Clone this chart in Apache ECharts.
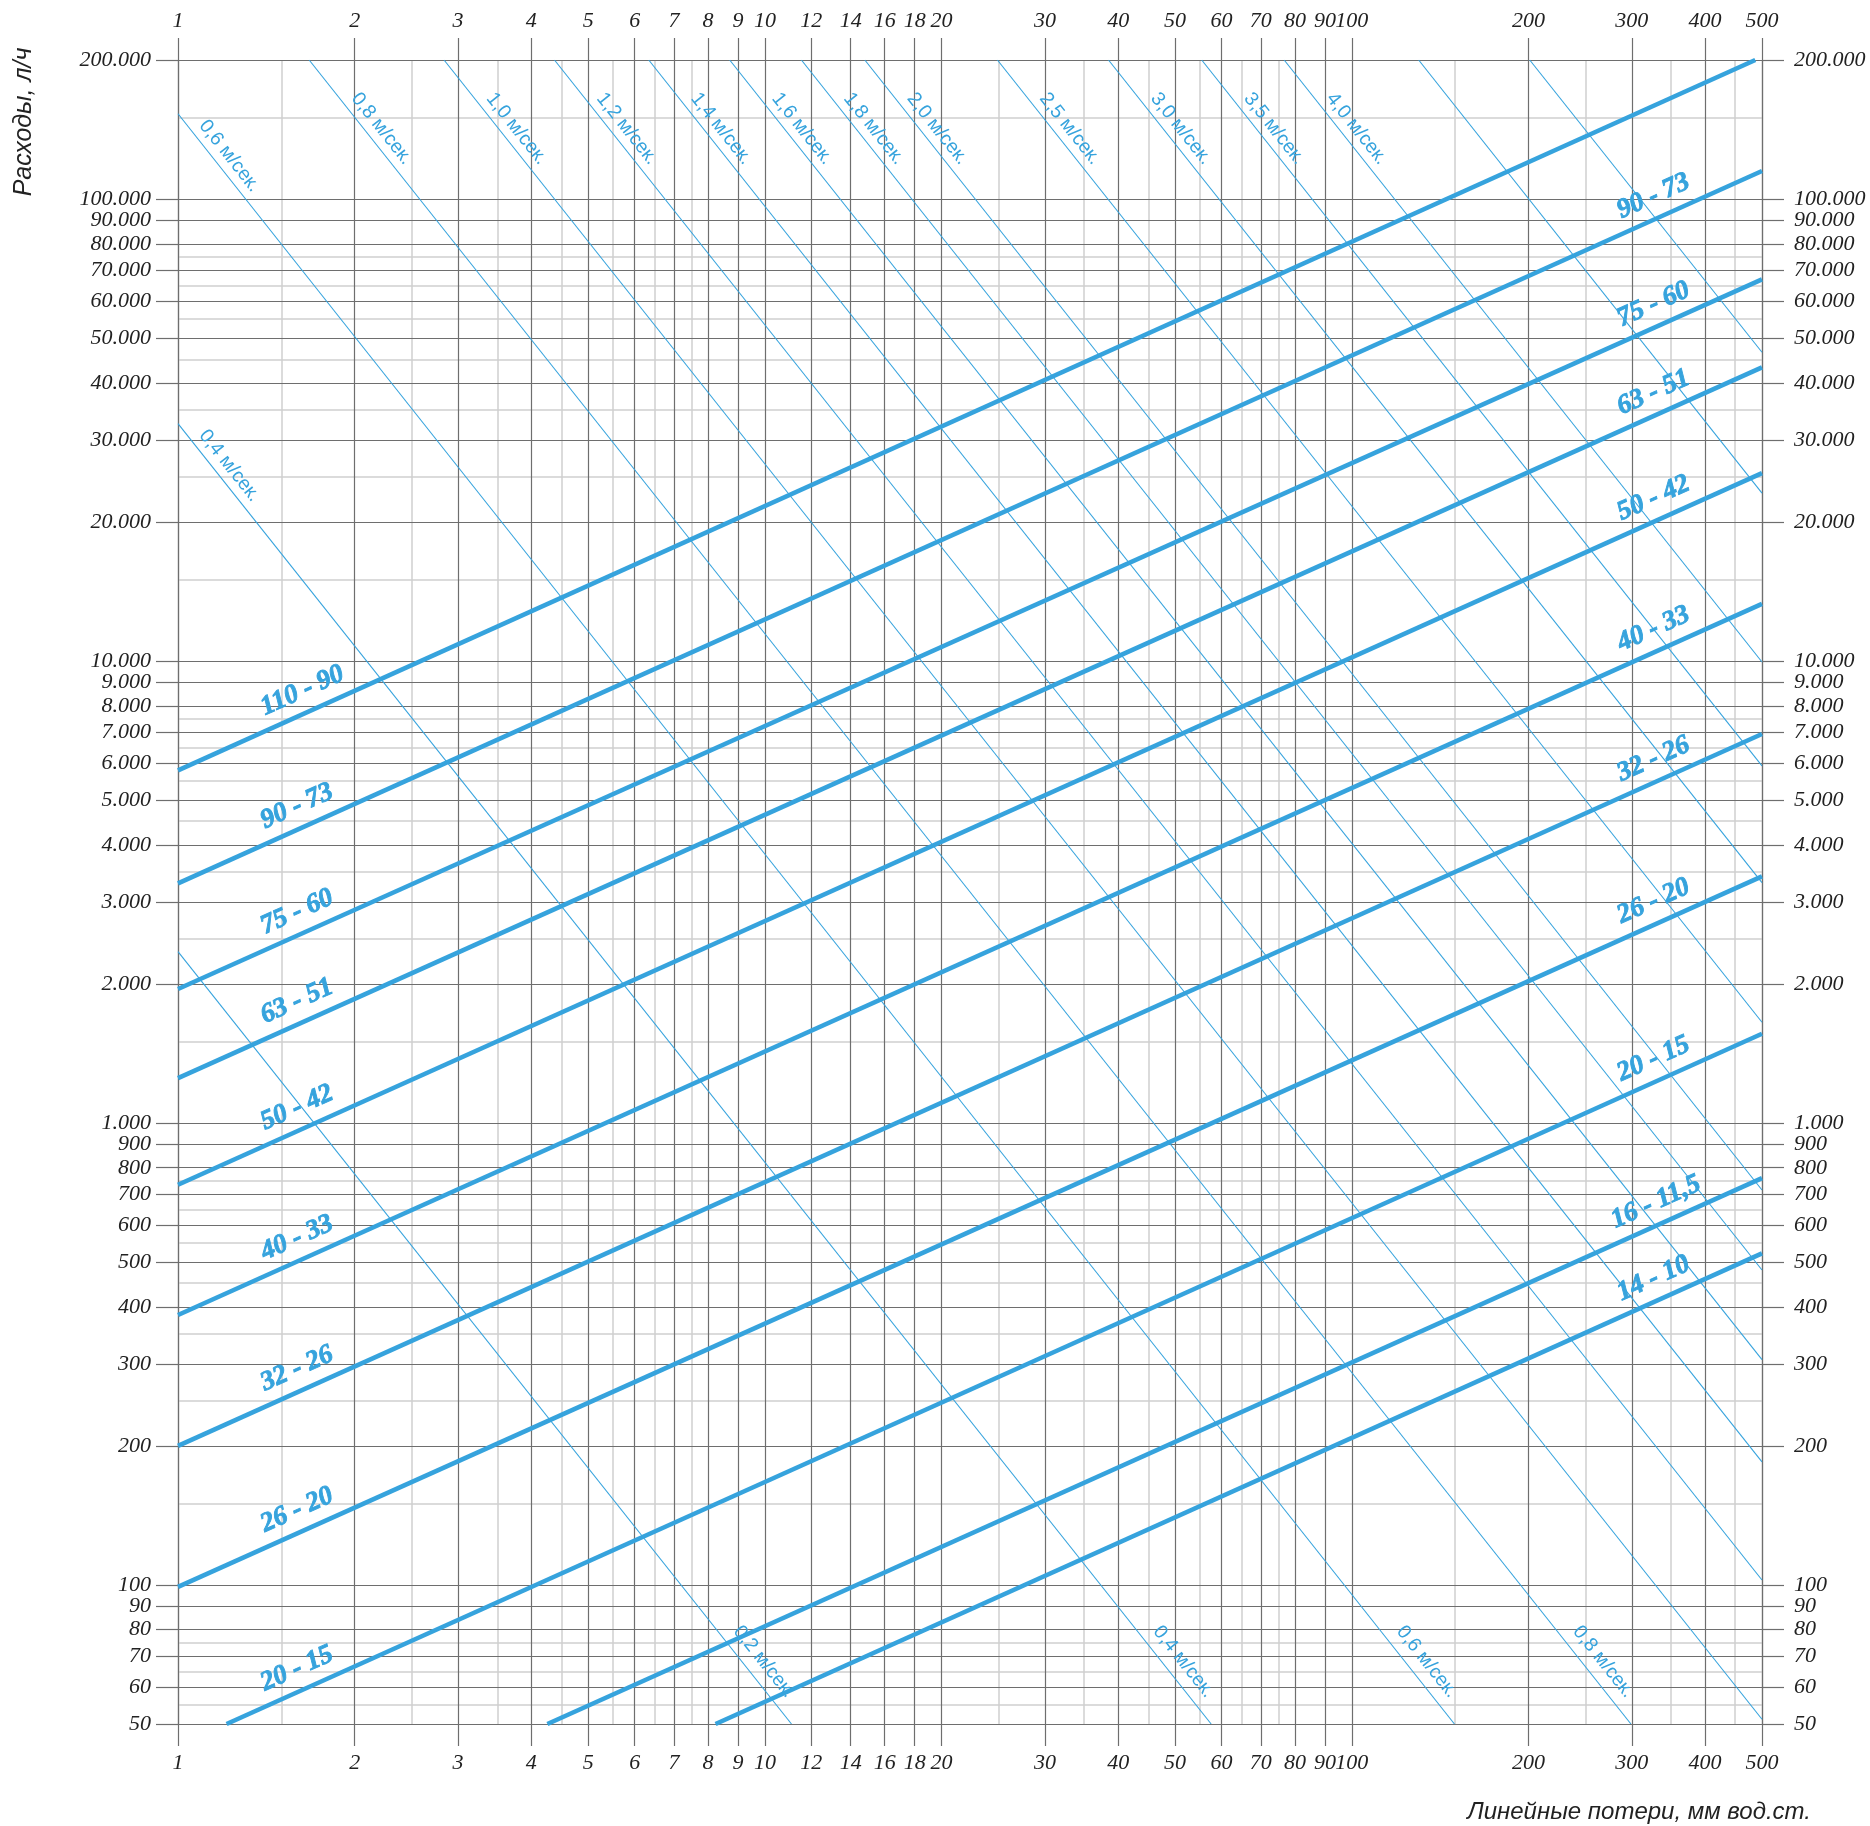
<!DOCTYPE html>
<html>
<head>
<meta charset="utf-8">
<script src="https://cdn.jsdelivr.net/npm/echarts@6/dist/echarts.min.js"></script>
<style>html,body{margin:0;padding:0;background:#fff}#c{width:1870px;height:1826px}</style>
</head>
<body>
<div id="c"></div>
<script>
// ---------- axis ticks ----------
const xTickValues = [1,2,3,4,5,6,7,8,9,10,12,14,16,18,20,30,40,50,60,70,80,90,100,200,300,400,500];
const xMinorValues = [1.5,2.5,3.5,4.5,5.5,6.5,7.5,25,35,45,55,65,75,150,250,350,450];
const yTickValues = [50,60,70,80,90,100,200,300,400,500,600,700,800,900,1000,2000,3000,4000,5000,6000,7000,8000,9000,10000,20000,30000,40000,50000,60000,70000,80000,90000,100000,200000];
const yMinorValues = [55,65,75,150,250,350,450,550,650,750,1500,2500,3500,4500,5500,6500,7500,15000,25000,35000,45000,55000,65000,75000,150000];

// ---------- pipe lines (start point, end point) ----------
const pipeNames = ['110 - 90','90 - 73','75 - 60','63 - 51','50 - 42','40 - 33','32 - 26','26 - 20','20 - 15','16 - 11,5','14 - 10'];
const pipeLines = [
  [[1,5800],[487,200000]],
  [[1,3300],[500,115000]],
  [[1,1950],[500,67000]],
  [[1,1250],[500,43200]],
  [[1,735],[500,25500]],
  [[1,384],[500,13300]],
  [[1,200],[500,6950]],
  [[1,99],[500,3420]],
  [[1.21,50],[500,1560]],
  [[4.26,50],[500,760]],
  [[8.24,50],[500,522]]
];
const pipeLeftLabelX  = [1.44,1.44,1.44,1.44,1.44,1.44,1.44,1.44,1.44,null,null];
const pipeRightLabelX = [null,295,295,295,295,295,295,295,295,288,295];

// ---------- velocity lines ----------
const velocityNames = ['0,2 м/сек.','0,4 м/сек.','0,6 м/сек.','0,8 м/сек.','1,0 м/сек.','1,2 м/сек.','1,4 м/сек.','1,6 м/сек.','1,8 м/сек.','2,0 м/сек.','2,5 м/сек.','3,0 м/сек.','3,5 м/сек.','4,0 м/сек.','5,0 м/сек.','6,0 м/сек.'];
const velocityLines = [
  [[1,2350],[11.1,50]],
  [[1,32650],[57.6,50]],
  [[1,153000],[149.6,50]],
  [[1.673,200000],[299,50]],
  [[2.84,200000],[500,51.2]],
  [[4.38,200000],[500,102.5]],
  [[6.34,200000],[500,184.6]],
  [[8.71,200000],[500,307.5]],
  [[11.54,200000],[500,480.5]],
  [[14.8,200000],[500,716]],
  [[24.9,200000],[500,1652]],
  [[38.5,200000],[500,3315]],
  [[55.5,200000],[500,5930]],
  [[76.7,200000],[500,9950]],
  [[130,200000],[500,23100]],
  [[201,200000],[500,46600]]
];
const velocityLabelEnds = [['end'],['start','end'],['start','end'],['start','end'],['start'],['start'],['start'],['start'],['start'],['start'],['start'],['start'],['start'],['start'],[],[]];

// ---------- styles ----------
const BLUE = '#36a3dd';
const MAJOR = '#6e6e6e';
const MINOR = '#cfcfcf';
const TXT = '#222222';
const tickFont = {fontFamily:'Liberation Serif', fontStyle:'italic', fontSize:22, color:TXT};

function fmtY(v){ const n = Math.round(v); return n >= 1000 ? String(n).replace(/\B(?=(\d{3})+(?!\d))/g,'.') : String(n); }

function logInterp(line, x){
  const [[x0,y0],[x1,y1]] = line;
  const t = (Math.log(x)-Math.log(x0))/(Math.log(x1)-Math.log(x0));
  return Math.exp(Math.log(y0) + t*(Math.log(y1)-Math.log(y0)));
}

// label items
const labelItems = [];
pipeNames.forEach((name,i)=>{
  const ln = pipeLines[i];
  if (pipeLeftLabelX[i] != null) labelItems.push({line:ln, x:pipeLeftLabelX[i], y:logInterp(ln,pipeLeftLabelX[i]), text:name, kind:'pipe', align:'left', along:0, off:8});
  if (pipeRightLabelX[i] != null) labelItems.push({line:ln, x:pipeRightLabelX[i], y:logInterp(ln,pipeRightLabelX[i]), text:name, kind:'pipe', align:'left', along:0, off:8});
});
velocityNames.forEach((name,i)=>{
  const ln = velocityLines[i];
  velocityLabelEnds[i].forEach(end=>{
    if (end === 'start') {
      const fromLeft = ln[0][1] < 200000;
      labelItems.push({line:ln, x:ln[0][0], y:ln[0][1], text:name, kind:'vel', align:'left', along: fromLeft ? 22 : 56, off:4});
    } else {
      labelItems.push({line:ln, x:ln[1][0], y:ln[1][1], text:name, kind:'vel', align:'right', along:-23, off:7});
    }
  });
});

const series = [];
function gridMarks(xs, ys, color, width, z){
  return {type:'line', data:[], silent:true, xAxisIndex:0, yAxisIndex:0,
    markLine:{silent:true, z:z, animation:false, symbol:['none','none'], label:{show:false},
      lineStyle:{color:color, width:width, type:'solid'}, emphasis:{disabled:true},
      data:[...xs.map(v=>({xAxis:v})), ...ys.map(v=>({yAxis:v}))]}};
}
series.push(gridMarks(xMinorValues, yMinorValues, MINOR, 1.5, 1));
series.push(gridMarks(xTickValues, yTickValues, MAJOR, 1.2, 2));

velocityLines.forEach((ln,i)=>{
  series.push({type:'line', name:velocityNames[i], data:ln, showSymbol:false, symbol:'none', silent:true, z:10,
    lineStyle:{color:BLUE, width:1.1}, emphasis:{disabled:true}});
});
pipeLines.forEach((ln,i)=>{
  series.push({type:'line', name:pipeNames[i], data:ln, showSymbol:false, symbol:'none', silent:true, z:11,
    lineStyle:{color:BLUE, width:4.6, cap:'butt'}, emphasis:{disabled:true}});
});

series.push({
  type:'custom', silent:true, z:12, clip:false,
  data: labelItems.map(l=>[l.x, l.y]),
  encode:{x:0, y:1},
  renderItem(params, api){
    const l = labelItems[params.dataIndex];
    const p = api.coord([l.x, l.y]);
    const a = api.coord(l.line[0]), b = api.coord(l.line[1]);
    const ang = Math.atan2(b[1]-a[1], b[0]-a[0]);
    const cx = p[0] + l.along*Math.cos(ang) + l.off*Math.sin(ang);
    const cy = p[1] + l.along*Math.sin(ang) - l.off*Math.cos(ang);
    const isPipe = l.kind === 'pipe';
    const style = {text:l.text, fill:BLUE, align:l.align, verticalAlign:'bottom',
        fontFamily: isPipe ? 'Liberation Serif' : 'Liberation Sans',
        fontStyle: isPipe ? 'italic' : 'normal',
        fontWeight: isPipe ? 'bold' : 'normal',
        fontSize: isPipe ? 27 : 19.5};
    if (isPipe) { style.stroke = BLUE; style.lineWidth = 0.9; }
    return {type:'text', x:cx, y:cy, rotation:-ang, silent:true, style:style};
  }
});

function xAxisDef(pos){
  return {type:'log', logBase:10, min:1, max:500, position:pos, gridIndex:0,
    axisLine:{show:true, lineStyle:{color:MAJOR, width:1.2}},
    axisTick:{show:true, inside:false, length:22, customValues:xTickValues, lineStyle:{color:MAJOR, width:1.2}},
    axisLabel:Object.assign({show:true, margin:28, customValues:xTickValues, formatter:v=>String(Math.round(v))}, tickFont),
    splitLine:{show:false}, minorTick:{show:false}, minorSplitLine:{show:false}};
}
function yAxisDef(pos, margin){
  return {type:'log', logBase:10, min:50, max:200000, position:pos, gridIndex:0,
    axisLine:{show:true, lineStyle:{color:MAJOR, width:1.2}},
    axisTick:{show:true, inside:false, length:22, customValues:yTickValues, lineStyle:{color:MAJOR, width:1.2}},
    axisLabel:Object.assign({show:true, margin:margin, customValues:yTickValues, formatter:fmtY}, tickFont),
    splitLine:{show:false}, minorTick:{show:false}, minorSplitLine:{show:false}};
}

const chart = echarts.init(document.getElementById('c'), null, {renderer:'canvas', width:1870, height:1826});
chart.setOption({
  animation:false,
  backgroundColor:'#ffffff',
  grid:{left:178, right:108, top:60, bottom:102, containLabel:false, outerBoundsMode:'none'},
  xAxis:[xAxisDef('bottom'), xAxisDef('top')],
  yAxis:[yAxisDef('left', 27), yAxisDef('right', 32)],
  series: series,
  graphic:[
    {type:'text', x:24, y:122, rotation:Math.PI/2, silent:true,
      style:{text:'Расходы, л/ч', fill:TXT, fontFamily:'Liberation Sans', fontStyle:'italic', fontSize:25, align:'center', verticalAlign:'middle'}},
    {type:'text', x:1811, y:1812, silent:true,
      style:{text:'Линейные потери, мм вод.ст.', fill:TXT, fontFamily:'Liberation Sans', fontStyle:'italic', fontSize:24, align:'right', verticalAlign:'middle'}}
  ]
});
</script>
</body>
</html>
